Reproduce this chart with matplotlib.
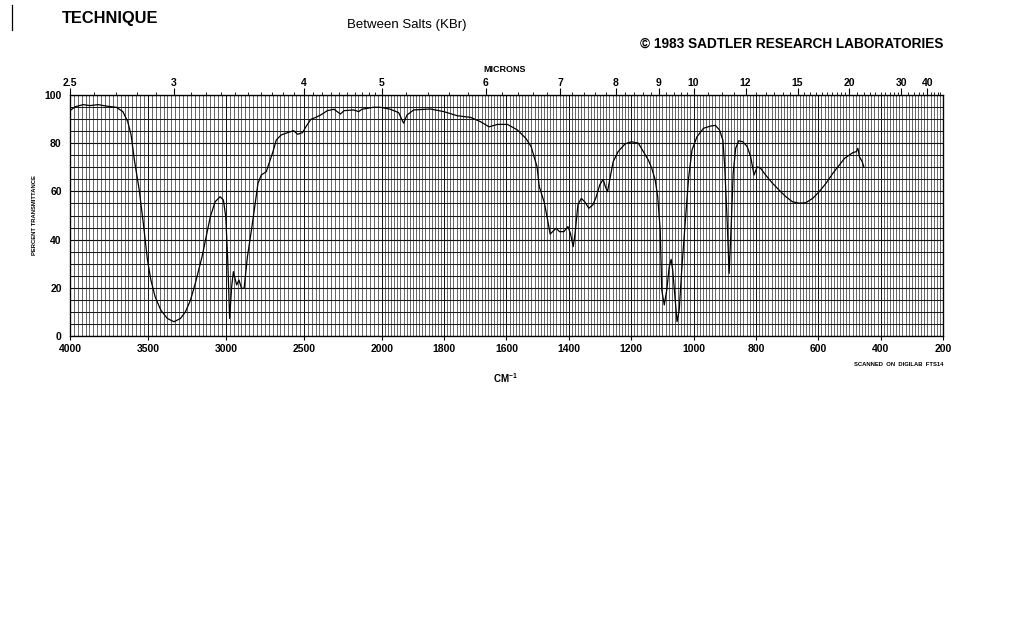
import numpy as np
import matplotlib
matplotlib.use("Agg")
import matplotlib.pyplot as plt

plt.rcParams['font.family'] = ['Liberation Sans', 'DejaVu Sans']

# spectrum (wavenumber cm-1, percent transmittance)
wavenumber = [4000, 3968, 3915, 3873, 3820, 3767, 3703, 3661, 3630, 3608, 3587, 3556, 3530, 3503,
              3481, 3454, 3418, 3376, 3333, 3291, 3259, 3227, 3196, 3153, 3100, 3069, 3037, 3016,
              3001, 2989, 2976, 2963, 2952, 2931, 2916, 2900, 2883, 2862, 2836, 2815, 2794, 2773,
              2741, 2720, 2698, 2677, 2646, 2603, 2565, 2540, 2508, 2487, 2455, 2424, 2392, 2349,
              2307, 2265, 2243, 2180, 2148, 2127, 2053, 2011, 1973, 1946, 1930, 1919, 1898, 1844,
              1801, 1758, 1715, 1683, 1656, 1629, 1597, 1565, 1538, 1521, 1502, 1495, 1479, 1468,
              1460, 1452, 1441, 1430, 1416, 1403, 1395, 1386, 1380, 1371, 1360, 1349, 1336, 1323,
              1312, 1301, 1290, 1283, 1276, 1269, 1258, 1242, 1220, 1199, 1177, 1161, 1145, 1134,
              1123, 1115, 1107, 1102, 1094, 1086, 1078, 1072, 1067, 1059, 1053, 1046, 1038, 1027,
              1016, 1005, 989, 968, 946, 930, 917, 906, 900, 892, 886, 879, 873, 865, 855, 842,
              828, 817, 806, 796, 785, 769, 747, 726, 704, 683, 661, 640, 618, 597, 575, 554,
              532, 516, 500, 489, 478, 473, 468, 459, 454]
transmittance = [93.5, 95.1, 96.0, 95.6, 96.0, 95.4, 94.9, 93.1, 89.0, 83.4, 73.0, 60.6, 46.9, 31.5,
                 23.2, 16.3, 10.8, 7.3, 5.9, 7.3, 10.1, 14.9, 21.9, 32.9, 49.5, 55.7, 57.8, 56.4,
                 49.5, 32.9, 7.3, 20.5, 26.7, 21.2, 23.2, 19.8, 19.8, 32.9, 44.0, 53.6, 63.4, 66.8,
                 68.2, 72.3, 76.5, 81.3, 83.4, 84.4, 85.2, 83.7, 84.4, 86.8, 89.9, 90.7, 91.7, 93.5,
                 94.1, 92.1, 93.5, 93.8, 93.1, 94.1, 94.9, 94.9, 94.1, 92.7, 88.3, 91.7, 93.8, 94.2,
                 93.1, 91.4, 90.7, 88.9, 86.8, 87.8, 87.8, 85.5, 82.0, 78.6, 70.2, 62.0, 55.5, 48.1,
                 42.3, 43.3, 44.7, 43.3, 43.3, 45.4, 42.6, 37.1, 42.6, 54.4, 57.1, 55.7, 53.0, 54.4,
                 57.8, 62.7, 65.0, 62.0, 59.9, 64.7, 72.3, 76.5, 79.7, 80.6, 80.0, 76.5, 73.0, 69.6,
                 64.7, 57.8, 44.0, 19.1, 12.9, 19.1, 28.8, 31.8, 27.4, 14.9, 5.9, 10.8, 27.4, 46.8,
                 65.5, 77.2, 82.7, 86.2, 87.1, 87.4, 85.5, 81.3, 70.2, 46.8, 26.0, 46.8, 67.4, 77.9,
                 81.0, 80.6, 78.6, 74.4, 66.8, 70.2, 69.6, 66.8, 63.4, 60.6, 57.8, 55.7, 55.1, 55.3,
                 57.1, 59.9, 63.4, 67.4, 71.0, 73.7, 75.1, 76.1, 76.5, 77.9, 74.4, 72.3, 70.2]

wn_ticks = [4000, 3500, 3000, 2500, 2000, 1800, 1600, 1400, 1200, 1000, 800, 600, 400, 200]
micron_ticks = [2.5, 3, 4, 5, 6, 7, 8, 9, 10, 12, 15, 20, 30, 40]
pct_ticks = [0, 20, 40, 60, 80, 100]


# chart paper: scale halves above 2000 cm-1
def fwd(w):
    w = np.asarray(w, dtype=float)
    return np.where(w > 2000, 2000 + (w - 2000) / 2, w)


def inv(u):
    u = np.asarray(u, dtype=float)
    return np.where(u > 2000, 2000 + (u - 2000) * 2, u)


fig = plt.figure(figsize=(10.24, 6.41), dpi=100)
ax = fig.add_axes([70 / 1024, 1 - 336 / 641, 873 / 1024, 241 / 641])
ax.set_xscale('function', functions=(fwd, inv))
ax.set_xlim(4000, 200)
ax.set_ylim(0, 100)

minor_x = list(np.arange(4000, 2000, -25)) + list(np.arange(2000, 199, -10))
ax.set_xticks(wn_ticks)
ax.set_xticklabels([str(t) for t in wn_ticks], fontsize=7.5, fontweight='bold')
ax.set_xticks(minor_x, minor=True)
ax.set_yticks(pct_ticks)
ax.set_yticklabels([str(t) for t in pct_ticks], fontsize=7.5, fontweight='bold')
ax.set_yticks(np.arange(0, 101, 5), minor=True)
ax.tick_params(axis='x', which='major', length=3, width=0.8, pad=3)
ax.tick_params(axis='x', which='minor', length=0)
ax.tick_params(axis='y', which='both', length=0, pad=6)

ax.grid(axis='x', which='minor', color='#2a2a2a', linewidth=0.5)
ax.grid(axis='x', which='major', color='#111111', linewidth=0.7)
ax.grid(axis='y', which='minor', color='#1a1a1a', linewidth=0.75)
ax.grid(axis='y', which='major', color='#111111', linewidth=0.8)
for s in ax.spines.values():
    s.set_linewidth(0.9)

ax.plot(wavenumber, transmittance, color='black', linewidth=0.9, zorder=3)

# micron scale on top
ax2 = ax.twiny()
ax2.set_xscale('function', functions=(fwd, inv))
ax2.set_xlim(4000, 200)
ax2.set_xticks([1e4 / m for m in micron_ticks])
ax2.set_xticklabels([f'{m:g}' for m in micron_ticks], fontsize=7.5, fontweight='bold')
minor_um = list(np.arange(2.6, 5, 0.1)) + list(np.arange(5.2, 10, 0.2)) + \
    list(np.arange(10.5, 20, 0.5)) + list(np.arange(21, 30, 1)) + list(np.arange(32, 50, 2))
ax2.set_xticks([1e4 / m for m in minor_um], minor=True)
ax2.tick_params(axis='x', which='major', length=5, width=0.8, pad=0)
ax2.tick_params(axis='x', which='minor', length=2.5, width=0.6)

fig.text(505 / 1024, 1 - 69 / 641, 'MICRONS', ha='center', va='center', fontsize=6.5, fontweight='bold')
fig.text(505 / 1024, 1 - 378 / 641, 'CM$^{\\mathregular{-1}}$', ha='center', va='center', fontsize=7, fontweight='bold')
fig.text(943 / 1024, 1 - 364 / 641, 'SCANNED  ON  DIGILAB  FTS14', ha='right', va='center', fontsize=4.2, fontweight='bold')
fig.text(34 / 1024, 1 - 215 / 641, 'PERCENT TRANSMITTANCE', ha='center', va='center', rotation=90, fontsize=4.2, fontweight='bold')

fig.text(62 / 1024, 1 - 18 / 641, 'TECHNIQUE', ha='left', va='center', fontsize=11.8, fontweight='bold')
fig.text(347 / 1024, 1 - 25 / 641, 'Between Salts (KBr)', ha='left', va='center', fontsize=9.5)
fig.text(943 / 1024, 1 - 44 / 641, '© 1983 SADTLER RESEARCH LABORATORIES', ha='right', va='center', fontsize=9.8, fontweight='bold')

fig.add_artist(plt.Line2D([12 / 1024, 12 / 1024], [1 - 5 / 641, 1 - 30 / 641], color='black', linewidth=0.9))

fig.savefig('out.png', dpi=100)
